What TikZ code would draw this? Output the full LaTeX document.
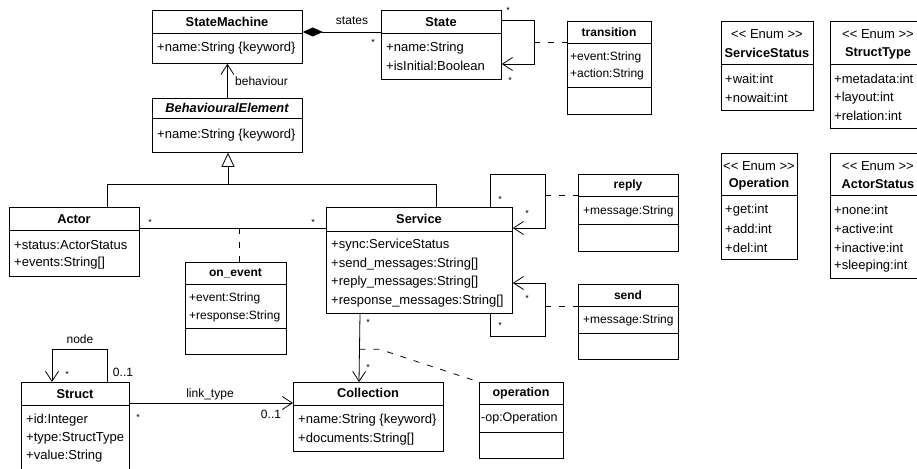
\documentclass[tikz,border=0pt]{standalone}
\usepackage{fontspec}
\setmainfont{Liberation Sans}
\usetikzlibrary{arrows.meta}
\begin{document}
\begin{tikzpicture}[x=1pt,y=-1pt,
  font=\fontsize{13}{15}\selectfont,
  cls/.style={draw, line width=0.8pt, anchor=north west, inner sep=0pt},
  div/.style={line width=0.8pt},
  ttl/.style={font=\fontsize{12.8}{15}\selectfont\bfseries, inner sep=0pt},
  sttl/.style={font=\fontsize{12}{14}\selectfont\bfseries, inner sep=0pt},
  att/.style={anchor=west, inner sep=0pt},
  satt/.style={anchor=west, inner sep=0pt, font=\fontsize{12}{14}\selectfont},
  lbl/.style={inner sep=0pt, font=\fontsize{12}{14}\selectfont},
  star/.style={inner sep=0pt, font=\fontsize{9}{10}\selectfont},
  assoc/.style={line width=0.8pt, -{Straight Barb[length=10pt,width=13pt]}},
  plain/.style={line width=0.8pt},
  dsh/.style={line width=0.8pt, dash pattern=on 6pt off 8pt},
  comp/.style={line width=0.8pt, {Diamond[length=20pt,width=9pt]}-},
  gen/.style={line width=0.8pt, -{Triangle[open,length=14pt,width=13pt,fill=white]}}
]
\useasboundingbox (0,0) rectangle (917,468);

% StateMachine
\node[cls, minimum width=150pt, minimum height=53pt] (sm) at (152,10) {};
\draw[div] (152,33) -- (302,33);
\node[ttl] (smt) at (227,22) {StateMachine};
\node[att] (sma) at (157,48) {+name:String \{keyword\}};

% BehaviouralElement
\node[cls, minimum width=150pt, minimum height=54pt] (be) at (152,98) {};
\draw[div] (152,118) -- (302,118);
\node[ttl] (bet) at (227,108) {\itshape BehaviouralElement};
\node[att] (bea) at (157,135) {+name:String \{keyword\}};

% State
\node[cls, minimum width=120pt, minimum height=69pt] (state) at (381,10) {};
\draw[div] (381,33) -- (501,33);
\node[ttl] (stt) at (441,22) {State};
\node[att] (sta1) at (386,48) {+name:String};
\node[att] (sta2) at (386,66) {+isInitial:Boolean};

% transition
\node[cls, minimum width=84pt, minimum height=93pt] (tr) at (567,21) {};
\draw[div] (567,43) -- (651,43);
\draw[div] (567,87) -- (651,87);
\node[sttl] (trt) at (609,32) {transition};
\node[satt] (tra1) at (570,57) {+event:String};
\node[satt] (tra2) at (570,74) {+action:String};

% ServiceStatus
\node[cls, minimum width=92pt, minimum height=89pt] (ss) at (721,21) {};
\draw[div] (721,64) -- (813,64);
\node[inner sep=0pt] (sss) at (767,34) {<{}< Enum >{}>};
\node[ttl] (sst) at (767,53) {ServiceStatus};
\node[att] (ssa1) at (725,79) {+wait:int};
\node[att] (ssa2) at (725,98) {+nowait:int};

% StructType
\node[cls, minimum width=96pt, minimum height=107pt] (st) at (830,21) {};
\draw[div] (830,64) -- (926,64);
\node[inner sep=0pt] (sts) at (878,34) {<{}< Enum >{}>};
\node[ttl] (stt2) at (878,53) {StructType};
\node[att] (sta3) at (834,79) {+metadata:int};
\node[att] (sta4) at (834,98) {+layout:int};
\node[att] (sta5) at (834,116) {+relation:int};

% Operation
\node[cls, minimum width=76pt, minimum height=106pt] (op) at (721,153) {};
\draw[div] (721,195) -- (797,195);
\node[inner sep=0pt] (ops) at (759,166) {<{}< Enum >{}>};
\node[ttl] (opt) at (759,184) {Operation};
\node[att] (opa1) at (725,210) {+get:int};
\node[att] (opa2) at (725,229) {+add:int};
\node[att] (opa3) at (725,248) {+del:int};

% ActorStatus
\node[cls, minimum width=96pt, minimum height=125pt] (as) at (830,153) {};
\draw[div] (830,195) -- (926,195);
\node[inner sep=0pt] (ass) at (878,166) {<{}< Enum >{}>};
\node[ttl] (ast) at (878,184) {ActorStatus};
\node[att] (asa1) at (834,210) {+none:int};
\node[att] (asa2) at (834,229) {+active:int};
\node[att] (asa3) at (834,248) {+inactive:int};
\node[att] (asa4) at (834,266) {+sleeping:int};

% Actor
\node[cls, minimum width=130pt, minimum height=69pt] (actor) at (9,207) {};
\draw[div] (9,230) -- (139,230);
\node[ttl] (act) at (74,219) {Actor};
\node[att] (aca1) at (14,245) {+status:ActorStatus};
\node[att] (aca2) at (14,263) {+events:String[]};

% Service
\node[cls, minimum width=186pt, minimum height=106pt] (service) at (326,207) {};
\draw[div] (326,231) -- (512,231);
\node[ttl] (svt) at (419,219) {Service};
\node[att] (sva1) at (331,245) {+sync:ServiceStatus};
\node[att] (sva2) at (331,264) {+send\_messages:String[]};
\node[att] (sva3) at (331,282) {+reply\_messages:String[]};
\node[att] (sva4) at (331,301) {+response\_messages:String[]};

% on_event
\node[cls, minimum width=101pt, minimum height=92pt] (onevent) at (185,262) {};
\draw[div] (185,284) -- (286,284);
\draw[div] (185,328) -- (286,328);
\node[sttl] (oet) at (235.5,273) {on\_event};
\node[satt] (oea1) at (189,298) {+event:String};
\node[satt] (oea2) at (189,316) {+response:String};

% reply
\node[cls, minimum width=100pt, minimum height=77pt] (reply) at (578,174) {};
\draw[div] (578,196) -- (678,196);
\draw[div] (578,224) -- (678,224);
\node[sttl] (rpt) at (628,185) {reply};
\node[satt] (rpa) at (583,211) {+message:String};

% send
\node[cls, minimum width=100pt, minimum height=75pt] (send) at (578,284) {};
\draw[div] (578,306) -- (678,306);
\draw[div] (578,333) -- (678,333);
\node[sttl] (sdt) at (628,295) {send};
\node[satt] (sda) at (583,320) {+message:String};

% Collection
\node[cls, minimum width=150pt, minimum height=69pt] (coll) at (293,382) {};
\draw[div] (293,405) -- (443,405);
\node[ttl] (cot) at (368,393) {Collection};
\node[att] (coa1) at (298,420) {+name:String \{keyword\}};
\node[att] (coa2) at (298,439) {+documents:String[]};

% operation
\node[cls, minimum width=84pt, minimum height=76pt] (oper) at (479,382) {};
\draw[div] (479,404) -- (563,404);
\draw[div] (479,432) -- (563,432);
\node[sttl, font=\fontsize{12.5}{14}\selectfont\bfseries] (ort) at (521,393) {operation};
\node[satt, font=\fontsize{12.5}{14}\selectfont] (ora) at (481,418) {-op:Operation};

% Struct
\node[cls, minimum width=108pt, minimum height=92pt] (struct) at (21,382) {};
\draw[div] (21,405) -- (129,405);
\node[ttl] (srt) at (75,394) {Struct};
\node[att] (sra1) at (26,420) {+id:Integer};
\node[att] (sra2) at (26,438) {+type:StructType};
\node[att] (sra3) at (26,456) {+value:String};

% ---- connectors ----
% behaviour
\draw[assoc] (be.north) -- (sm.south);
\node[lbl, anchor=west] (lbeh) at (235,81) {behaviour};

% states (composition)
\draw[comp] ([yshift=-22pt]sm.north east) -- ([yshift=-22pt]state.north west);
\node[lbl] (lst) at (352,21) {states};
\node[star] (s1) at (373,42) {*};

% State self loop (transition)
\coordinate (sl) at (534,20);
\draw[assoc] ([yshift=-10pt]state.north east) -- (sl) |- ([yshift=-54pt]state.north east);
\coordinate (trw) at ([yshift=-21pt]tr.north west);
\draw[dsh] (sl |- trw) -- (trw);
\node[star] (s2) at (508,10) {*};
\node[star] (s3) at (510,80) {*};

% generalization
\coordinate (gj) at (228,184);
\draw[plain] ([xshift=33pt]actor.north) |- ([xshift=17pt]service.north |- gj) -- ([xshift=17pt]service.north);
\draw[gen] (gj) -- (gj |- be.south);

% Actor - Service
\draw[plain] ([yshift=-21pt]actor.north east) -- ([yshift=-21pt]service.north west) coordinate[pos=0.535] (aem);
\draw[dsh] (aem) -- (aem |- onevent.north);
\node[star] (s4) at (150,222) {*};
\node[star] (s5) at (313,222) {*};

% reply loop
\coordinate (rl) at (545,174);
\draw[assoc] ([xshift=164pt]service.north west) |- (rl) |- ([yshift=-21pt]service.north east);
\coordinate (rpw) at ([yshift=-21pt]reply.north west);
\draw[dsh] (rl |- rpw) -- (rpw);
\node[star] (s6) at (500,199) {*};
\node[star] (s7) at (527,213) {*};

% send loop
\coordinate (sdl) at (545,336);
\draw[assoc] ([xshift=164pt]service.south west) |- (sdl) |- ([yshift=-76pt]service.north east);
\coordinate (sdw) at ([yshift=-22pt]send.north west);
\draw[dsh] (sdl |- sdw) -- (sdw);
\node[star] (s8) at (527,298) {*};
\node[star] (s9) at (500,325) {*};

% Service -> Collection
\draw[assoc] ([xshift=34pt]service.south west) -- ([xshift=66pt]coll.north west) coordinate[pos=0.52] (scm);
\draw[dsh] (scm) -- ++(20,0) -- (oper.north west);
\node[star] (s10) at (368,322) {*};
\node[star] (s11) at (368,367) {*};

% Struct self loop (node)
\coordinate (nl) at (107,349);
\draw[assoc] ([xshift=86pt]struct.north west) |- ([xshift=31pt]struct.north west |- nl) -- ([xshift=31pt]struct.north west);
\node[lbl] (lnode) at (80,339) {node};
\node[star] (s12) at (67,374) {*};
\node[lbl] (l01a) at (123,372) {0..1};

% link_type
\draw[assoc] ([yshift=-21pt]struct.north east) -- ([yshift=-21pt]coll.north west);
\node[lbl] (llt) at (210,394) {link\_type};
\node[star] (s13) at (138,417) {*};
\node[lbl] (l01b) at (271,414) {0..1};
\end{tikzpicture}
\end{document}
